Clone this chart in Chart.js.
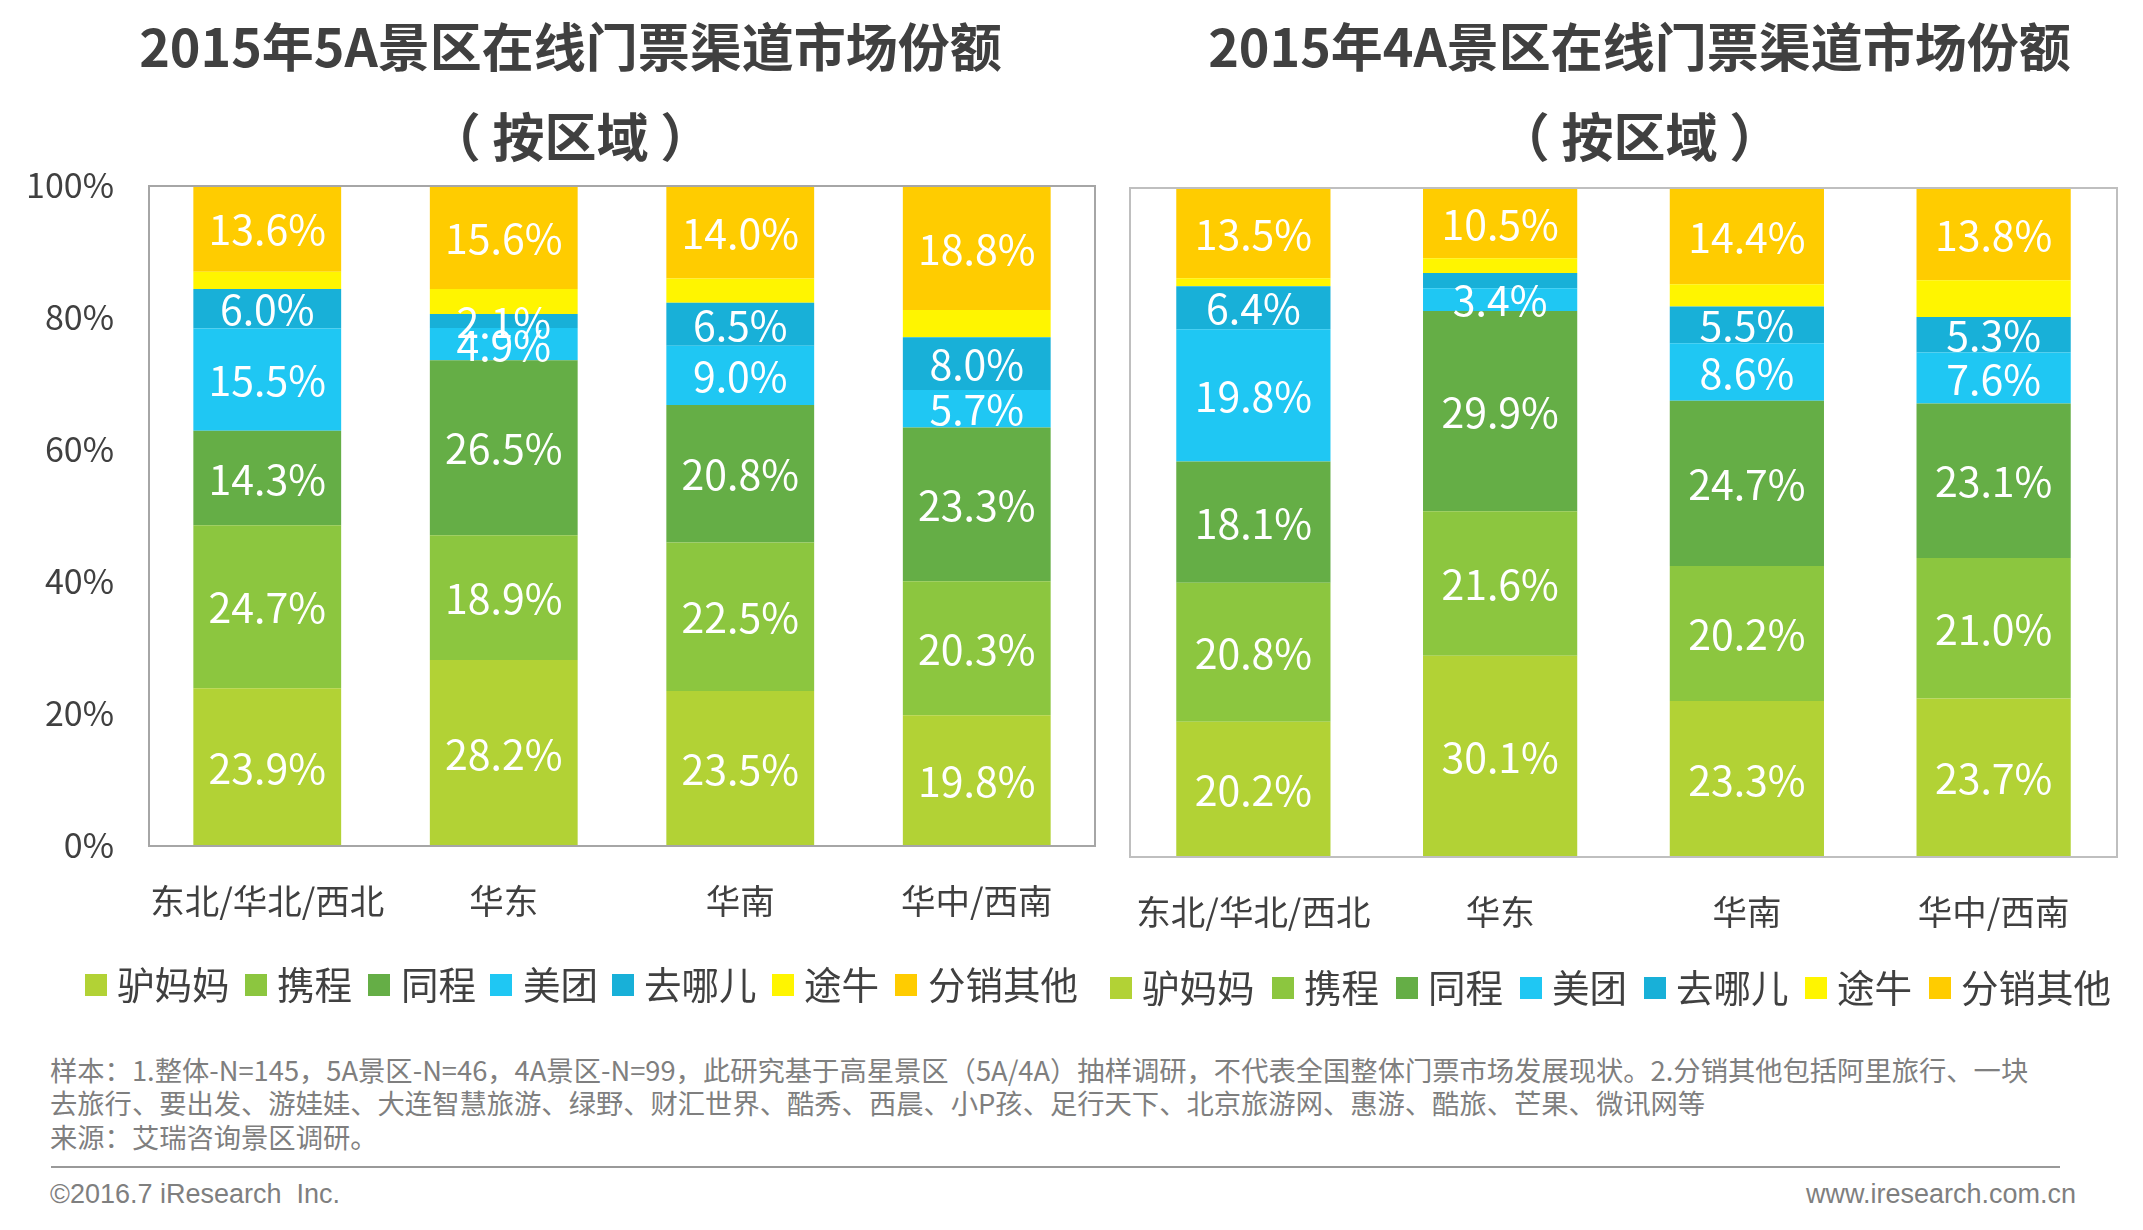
<!DOCTYPE html>
<html lang="zh"><head><meta charset="utf-8">
<script src="https://cdn.jsdelivr.net/npm/chart.js@4"></script>
<style>
html,body{margin:0;padding:0;background:#fff;width:2143px;height:1230px;overflow:hidden}
body{position:relative;font-family:"Noto Sans CJK SC",sans-serif}
canvas{position:absolute;top:0}
.t{position:absolute;white-space:pre;line-height:1}
.title{font-weight:700;font-size:52px;color:#404040;transform:translateX(-50%)}
.foot{font-size:27.3px;color:#7f7f7f;left:50px}
.lb{position:absolute;width:22px;height:22px}
.lt{position:absolute;font-size:37.5px;color:#404040;white-space:nowrap;line-height:1}
.en{font-family:"Liberation Sans",sans-serif;font-size:27px;color:#7f7f7f}
</style></head><body>
<canvas id="c5"></canvas><canvas id="c4"></canvas>
<script>
const categories=['东北/华北/西北','华东','华南','华中/西南'];
const seriesNames=['驴妈妈','携程','同程','美团','去哪儿','途牛','分销其他'];
const seriesColors=['#B2D235','#8CC63F','#65AE46','#1FC7F3','#18B0D8','#FFF500','#FFCC00'];
const yTicks=[0,20,40,60,80,100];

const lvmama5A=[23.9,28.2,23.5,19.8];
const ctrip5A=[24.7,18.9,22.5,20.3];
const tongcheng5A=[14.3,26.5,20.8,23.3];
const meituan5A=[15.5,4.9,9.0,5.7];
const qunar5A=[6.0,2.1,6.5,8.0];
const tuniu5A=[2.6,3.8,3.7,4.1];
const others5A=[13.6,15.6,14.0,18.8];

const lvmama4A=[20.2,30.1,23.3,23.7];
const ctrip4A=[20.8,21.6,20.2,21.0];
const tongcheng4A=[18.1,29.9,24.7,23.1];
const meituan4A=[19.8,3.4,8.6,7.6];
const qunar4A=[6.4,2.3,5.5,5.3];
const tuniu4A=[1.2,2.2,3.3,5.5];
const others4A=[13.5,10.5,14.4,13.8];

const unlabeled5A=[[5,0],[5,1],[5,2],[5,3]];
const unlabeled4A=[[5,0],[5,1],[5,2],[5,3],[4,1]];

const valueLabels={id:'valueLabels',afterDatasetsDraw(chart,args,o){
  const c=chart.ctx,a=chart.chartArea;
  c.save();c.fillStyle='#fff';c.font='400 41px "Noto Sans CJK SC"';c.textAlign='center';c.textBaseline='middle';
  chart.data.datasets.forEach((d,si)=>{
    chart.getDatasetMeta(si).data.forEach((el,i)=>{
      if(o.skip.some(p=>p[0]===si&&p[1]===i))return;
      const top=Math.max(el.y,a.top);
      c.fillText(d.data[i].toFixed(1)+'%',el.x,(top+el.base)/2+1);
    });
  });
  c.restore();
}};
const frame={id:'frame',afterDatasetsDraw(chart,args,o){
  const c=chart.ctx,a=chart.chartArea;
  c.save();c.strokeStyle=o.color;c.lineWidth=2;
  c.strokeRect(a.left,a.top,a.right-a.left,a.bottom-a.top);c.restore();
}};

function makeChart(id,x,pad,yw,xh,rows,skip,showY,frameColor){
  const cv=document.getElementById(id);
  cv.style.left=x+'px';
  new Chart(cv,{type:'bar',
    data:{labels:categories,datasets:rows.map((r,i)=>({label:seriesNames[i],data:r,backgroundColor:seriesColors[i],borderWidth:0,
      barPercentage:0.625,categoryPercentage:1}))},
    options:{responsive:false,animation:false,devicePixelRatio:1,
      layout:{padding:pad},
      plugins:{legend:{display:false},tooltip:{enabled:false},title:{display:false},valueLabels:{skip},frame:{color:frameColor}},
      scales:{
        x:{stacked:true,grid:{display:false},border:{display:false},
           ticks:{color:'#404040',font:{family:'"Noto Sans CJK SC"',size:34.5},padding:26,maxRotation:0,autoSkip:false},
           afterFit(s){s.height=xh}},
        y:{stacked:true,min:0,max:100,grid:{display:false},border:{display:false},
           afterBuildTicks(s){s.ticks=yTicks.map(v=>({value:v}))},
           ticks:{display:showY,color:'#404040',font:{family:'"Noto Sans CJK SC"',size:34},padding:27,labelOffset:-1,callback:v=>v+'%'},
           afterFit(s){s.width=yw}}
      }
    },plugins:[valueLabels,frame]});
}
for(const [id,w,h] of [['c5',1110,960],['c4',1143,960]]){const cv=document.getElementById(id);cv.width=w;cv.height=h;}
makeChart('c5',0,{top:186,right:15,left:0,bottom:0},149,114,
  [lvmama5A,ctrip5A,tongcheng5A,meituan5A,qunar5A,tuniu5A,others5A],unlabeled5A,true,'#a6a6a6');
makeChart('c4',1000,{top:188,right:26,left:0,bottom:0},130,103,
  [lvmama4A,ctrip4A,tongcheng4A,meituan4A,qunar4A,tuniu4A,others4A],unlabeled4A,false,'#bfbfbf');

function addText(cls,txt,css){const d=document.createElement('div');d.className=cls;d.textContent=txt;Object.assign(d.style,css);document.body.appendChild(d);return d;}
addText('t title','2015年5A景区在线门票渠道市场份额',{left:'570.5px',top:'18.5px'});
addText('t title','（ 按区域 ）',{left:'570.5px',top:'108.5px'});
addText('t title','2015年4A景区在线门票渠道市场份额',{left:'1639.5px',top:'18.5px'});
addText('t title','（ 按区域 ）',{left:'1639.5px',top:'108.5px'});

const legendBox5A=[85,245,368,490,612,772,895];
const legendText5A=[117,277,401,523,644,804,928];
const legendBox4A=[1110,1272,1396,1520,1644,1805,1929];
const legendText4A=[1142,1304,1428,1552,1676,1837,1961];
function legend(boxes,texts,cy){
  seriesNames.forEach((n,i)=>{
    const b=document.createElement('div');b.className='lb';b.style.left=boxes[i]+'px';b.style.top=(cy-11)+'px';b.style.background=seriesColors[i];document.body.appendChild(b);
    const t=document.createElement('div');t.className='lt';t.textContent=n;t.style.left=texts[i]+'px';t.style.top=(cy-21)+'px';document.body.appendChild(t);
  });
}
legend(legendBox5A,legendText5A,985);
legend(legendBox4A,legendText4A,988);

addText('t foot','样本：1.整体-N=145，5A景区-N=46，4A景区-N=99，此研究基于高星景区（5A/4A）抽样调研，不代表全国整体门票市场发展现状。2.分销其他包括阿里旅行、一块',{top:'1056px'});
addText('t foot','去旅行、要出发、游娃娃、大连智慧旅游、绿野、财汇世界、酷秀、西晨、小P孩、足行天下、北京旅游网、惠游、酷旅、芒果、微讯网等',{top:'1089px'});
addText('t foot','来源：艾瑞咨询景区调研。',{top:'1123px'});
const rule=document.createElement('div');Object.assign(rule.style,{position:'absolute',left:'51px',top:'1166px',width:'2009px',height:'2px',background:'#999'});document.body.appendChild(rule);
addText('t en','©2016.7 iResearch  Inc.',{left:'50px',top:'1181px'});
addText('t en','www.iresearch.com.cn',{right:'67px',top:'1181px'});
</script>
</body></html>
